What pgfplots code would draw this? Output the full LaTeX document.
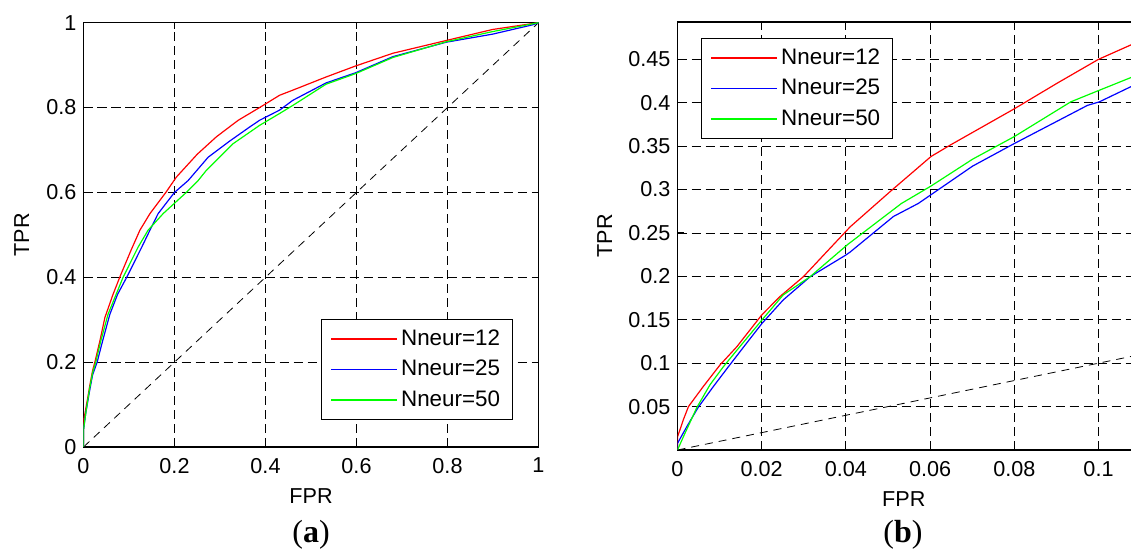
\documentclass[border=0pt]{standalone}
\usepackage{fontspec}
\setmainfont{Liberation Sans}
\newfontfamily\capfont{Liberation Serif}
\usepackage{pgfplots}
\pgfplotsset{compat=1.18}
\definecolor{mred}{RGB}{255,0,0}
\definecolor{mblue}{RGB}{0,0,255}
\definecolor{mgreen}{RGB}{0,255,0}
\begin{document}
\begin{tikzpicture}
\useasboundingbox (0,0) rectangle (565.5pt,276pt);
\pgfplotsset{
  rocstyle/.style={
    scale only axis,
    axis line style={line width=0.6pt, black},
    tick align=inside,
    major tick length=3pt,
    tick style={black, line width=0.5pt},
    grid=major,
    major grid style={black, line width=0.45pt, dash pattern=on 4.6pt off 2.4pt},
    font=\fontsize{10.8}{13}\selectfont,
    tick label style={font=\fontsize{10.8}{13}\selectfont},
    /pgf/number format/assume math mode=true,
    /pgf/number format/fixed,
    scaled x ticks=false, scaled y ticks=false,
    xlabel={FPR}, ylabel={TPR},
    xticklabel style={yshift=-2pt},
    legend cell align=left,
    legend image code/.code={\draw[##1, line width=0.8pt] (0pt,0pt) -- (33pt,0pt);},
    legend style={draw=black, line width=0.6pt, fill=white, font=\fontsize{11.2}{13}\selectfont,
      inner xsep=4.5pt, inner ysep=3.5pt, row sep=3pt, nodes={inner sep=1.5pt},
      /tikz/every even column/.append style={column sep=3pt}},
  },
  curve/.style={line width=0.6pt},
  diag/.style={black, line width=0.4pt, dash pattern=on 4pt off 3pt, forget plot},
}
% ---------------- (a)
\begin{axis}[rocstyle, at={(41.75pt,52.5pt)}, anchor=south west,
  width=227.5pt, height=212.15pt,
  xmin=0, xmax=1, ymin=0, ymax=1,
  xtick={0,0.2,0.4,0.6,0.8,1}, ytick={0,0.2,0.4,0.6,0.8,1},
  xlabel style={at={(axis description cs:0.5,0)}, anchor=north, yshift=-17.5pt},
  ylabel style={at={(axis description cs:-0.1675,0.5)}, anchor=north},
  legend style={at={(1,0)}, anchor=south east, xshift=-12.9pt, yshift=13.5pt}]
\addplot[diag] coordinates {(0,0) (1,1)};
\addplot[curve, mred] coordinates {
(0,0) (0,0.06) (0.005,0.09) (0.01,0.12) (0.013,0.14) (0.02,0.18) (0.025,0.2)
(0.036,0.25) (0.047,0.305) (0.065,0.36) (0.0815,0.405) (0.105,0.465) (0.124,0.511)
(0.146,0.55) (0.181,0.6) (0.204,0.636) (0.25,0.69) (0.292,0.731) (0.34,0.77)
(0.387,0.80) (0.431,0.829) (0.46,0.841) (0.533,0.872) (0.598,0.898) (0.68,0.928)
(0.797,0.958) (0.899,0.984) (1,1)};
\addplot[curve, mblue] coordinates {
(0,0) (0,0.04) (0.005,0.08) (0.013,0.13) (0.02,0.17) (0.030,0.2) (0.042,0.25)
(0.058,0.313) (0.075,0.36) (0.095,0.4) (0.128,0.471) (0.146,0.511) (0.164,0.55)
(0.2,0.6) (0.23,0.628) (0.274,0.683) (0.32,0.72) (0.365,0.754) (0.387,0.77)
(0.431,0.794) (0.46,0.817) (0.533,0.858) (0.598,0.882) (0.68,0.92) (0.797,0.954)
(0.899,0.973) (0.987,0.995) (1,1)};
\addplot[curve, mgreen] coordinates {
(0,0) (0,0.04) (0.005,0.08) (0.013,0.135) (0.02,0.175) (0.027,0.2) (0.038,0.25)
(0.054,0.313) (0.087,0.4) (0.12,0.471) (0.142,0.511) (0.175,0.55) (0.226,0.6)
(0.252,0.628) (0.27,0.652) (0.329,0.715) (0.387,0.758) (0.431,0.786) (0.46,0.805)
(0.533,0.855) (0.598,0.88) (0.68,0.918) (0.797,0.955) (0.899,0.979) (1,1)};
\legend{Nneur=12,Nneur=25,Nneur=50}
\end{axis}
% ---------------- (b)
\begin{axis}[rocstyle, at={(338.75pt,51pt)}, anchor=south west,
  width=252.6pt, height=214pt,
  xmin=0, xmax=0.12, ymin=0, ymax=0.493,
  xtick={0,0.02,0.04,0.06,0.08,0.1},
  ytick={0.05,0.1,0.15,0.2,0.25,0.3,0.35,0.4,0.45},
  xlabel style={at={(axis description cs:0.448,0)}, anchor=north, yshift=-17.5pt},
  ylabel style={at={(axis description cs:-0.173,0.5)}, anchor=north},
  legend style={at={(0,1)}, anchor=north west, xshift=11.75pt, yshift=-8pt}]
\addplot[diag] coordinates {(0,0) (0.12,0.12)};
\addplot[curve, mred] coordinates {
(0,0) (0,0.015) (0.0014,0.035) (0.0026,0.05) (0.0061,0.073) (0.0101,0.098)
(0.0141,0.119) (0.020,0.1555) (0.0243,0.1766) (0.0299,0.1996) (0.035,0.226)
(0.041,0.257) (0.0505,0.2976) (0.0602,0.338) (0.0647,0.351) (0.08,0.393)
(0.09,0.422) (0.1,0.45) (0.1077,0.4666) (0.115,0.481) (0.12,0.49)};
\addplot[curve, mblue] coordinates {
(0,0) (0,0.0077) (0.0022,0.0268) (0.0049,0.049) (0.0085,0.073) (0.0121,0.096)
(0.0164,0.123) (0.0201,0.146) (0.0251,0.1728) (0.0315,0.1996) (0.040,0.2246)
(0.041,0.228) (0.0513,0.269) (0.0572,0.284) (0.0602,0.294) (0.0701,0.327)
(0.08,0.353) (0.0974,0.397) (0.1002,0.401) (0.1077,0.4185) (0.12,0.44)};
\addplot[curve, mgreen] coordinates {
(0,0) (0.0014,0.0153) (0.0046,0.049) (0.0077,0.075) (0.0109,0.096) (0.0148,0.119)
(0.0201,0.150) (0.0251,0.1786) (0.0315,0.1996) (0.0405,0.237) (0.0532,0.284)
(0.0602,0.304) (0.0701,0.335) (0.08,0.361) (0.0934,0.401) (0.1,0.414)
(0.1077,0.429) (0.12,0.452)};
\legend{Nneur=12,Nneur=25,Nneur=50}
\end{axis}
\node[font=\capfont\fontsize{16}{18}\selectfont] at (155.5pt,8.5pt) {(\textbf{a})};
\node[font=\capfont\fontsize{16}{18}\selectfont] at (451.5pt,8.5pt) {(\textbf{b})};
\end{tikzpicture}
\end{document}
